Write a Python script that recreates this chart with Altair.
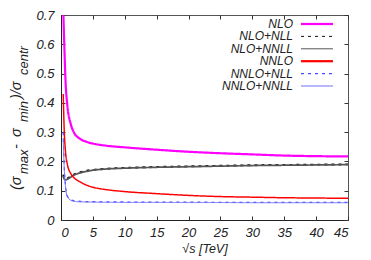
import altair as alt
import pandas as pd

# ---- data ----
sqrt_s = [0.35, 0.5, 0.7, 1, 1.5, 2, 3, 4, 5, 7, 10, 15, 20, 25, 30, 35, 40, 45]
nlo = [0.72, 0.61, 0.48, 0.39, 0.33, 0.30, 0.277, 0.267, 0.261, 0.254, 0.248, 0.240, 0.233, 0.228, 0.224, 0.220, 0.218, 0.217]
nlo_nll = [0.155, 0.143, 0.140, 0.142, 0.148, 0.155, 0.163, 0.168, 0.171, 0.175, 0.178, 0.181, 0.183, 0.185, 0.187, 0.188, 0.189, 0.190]
nlo_nnll = [0.150, 0.140, 0.137, 0.139, 0.146, 0.153, 0.161, 0.166, 0.170, 0.174, 0.177, 0.180, 0.182, 0.184, 0.186, 0.187, 0.188, 0.189]
nnlo = [0.43, 0.31, 0.235, 0.19, 0.16, 0.145, 0.130, 0.119, 0.112, 0.104, 0.097, 0.090, 0.084, 0.080, 0.078, 0.076, 0.075, 0.074]
nnlo_nll = [0.30, 0.19, 0.12, 0.082, 0.070, 0.066, 0.064, 0.063, 0.0625, 0.062, 0.0615, 0.061, 0.061, 0.0605, 0.0605, 0.060, 0.060, 0.060]
nnlo_nnll = [0.28, 0.18, 0.115, 0.079, 0.068, 0.064, 0.062, 0.0615, 0.061, 0.0605, 0.060, 0.060, 0.0595, 0.0595, 0.059, 0.059, 0.059, 0.059]

series_names = ["NLO", "NLO+NLL", "NLO+NNLL", "NNLO", "NNLO+NLL", "NNLO+NNLL"]
series_values = [nlo, nlo_nll, nlo_nnll, nnlo, nnlo_nll, nnlo_nnll]

x_ticks = [0, 5, 10, 15, 20, 25, 30, 35, 40, 45]
y_ticks = [0, 0.1, 0.2, 0.3, 0.4, 0.5, 0.6, 0.7]
x_title = "√s [TeV]"
y_title_parts = [("(σ", "main"), ("max", "sub"), ("-", "main"), ("σ", "main"),
                 ("min", "sub"), (")/σ", "main"), ("centr", "sub")]

# ---- styles ----
colors = ["#ff00ff", "#111111", "#555555", "#ff0000", "#4a4aff", "#7070ff"]
widths = [2.2, 1.0, 1.0, 2.2, 1.2, 1.0]
dashes = [[1, 0], [3, 4], [1, 0], [1, 0], [3, 4], [1, 0]]

W, H = 287, 205
FONT = "Liberation Sans"
TXT = "#222222"

rows = []
for k, (name, vals) in enumerate(zip(series_names, series_values)):
    for xv, yv in zip(sqrt_s, vals):
        rows.append({"series": name, "order": k, "x": xv, "y": yv})
df = pd.DataFrame(rows)

xs = alt.Scale(domain=[0, 45], nice=False, zero=False)
ys = alt.Scale(domain=[0, 0.7], nice=False)

lines = alt.Chart(df).mark_line(clip=True, interpolate="monotone").encode(
    x=alt.X("x:Q", scale=xs, axis=alt.Axis(
        values=x_ticks, format="d", tickSize=0, labelPadding=6, labelFontSize=13,
        labelFontStyle="italic", labelFont=FONT, labelColor=TXT, domainColor=TXT,
        grid=False, title=x_title, titleFont=FONT, titleFontSize=12.5,
        titleFontStyle="italic", titleFontWeight="normal", titleColor=TXT,
        titlePadding=3)),
    y=alt.Y("y:Q", scale=ys, axis=alt.Axis(
        values=y_ticks, labelExpr="datum.value == 0 ? '0' : format(datum.value, '.1f')",
        tickSize=0, labelPadding=7, labelFontSize=13, labelFontStyle="italic",
        labelFont=FONT, labelColor=TXT, domainColor=TXT, grid=False, title=None)),
    color=alt.Color("series:N", scale=alt.Scale(domain=series_names, range=colors), legend=None),
    strokeDash=alt.StrokeDash("series:N", scale=alt.Scale(domain=series_names, range=dashes), legend=None),
    strokeWidth=alt.StrokeWidth("series:N", scale=alt.Scale(domain=series_names, range=widths), legend=None),
    detail="series:N",
    order="order:Q",
)


def tick_axis(orient, offset, vals):
    return alt.Axis(orient=orient, offset=offset, values=vals, labels=False, domain=False,
                    ticks=True, tickSize=4, tickColor="#333333", grid=False, title=None)


ticks_a = alt.Chart(df).mark_line(opacity=0).encode(
    x=alt.X("x:Q", scale=xs, axis=tick_axis("top", -H, x_ticks)),
    y=alt.Y("y:Q", scale=ys, axis=tick_axis("right", -W, y_ticks)),
)
ticks_b = alt.Chart(df).mark_line(opacity=0).encode(
    x=alt.X("x:Q", scale=xs, axis=tick_axis("bottom", -H, x_ticks)),
    y=alt.Y("y:Q", scale=ys, axis=tick_axis("left", -W, y_ticks)),
)

# ---- legend (inside, top right) ----
legend_layers = []
for i, name in enumerate(series_names):
    ry = 9 + 12.4 * i
    legend_layers.append(
        alt.Chart(pd.DataFrame({"t": [name]})).mark_text(
            align="right", baseline="middle", font=FONT, fontSize=12,
            fontStyle="italic", color=TXT
        ).encode(text="t:N", x=alt.value(232), y=alt.value(ry))
    )
    rule_kw = dict(color=colors[i], strokeWidth=widths[i])
    if dashes[i] != [1, 0]:
        rule_kw["strokeDash"] = dashes[i]
    legend_layers.append(
        alt.Chart(pd.DataFrame({"t": [name]})).mark_rule(**rule_kw).encode(
            x=alt.value(240), x2=alt.value(272), y=alt.value(ry))
    )

# ---- rotated y title with subscripts ----
title_starts = [175, 159, 134, 122, 107, 84, 60]
title_layers = []
for (txt, kind), ystart in zip(y_title_parts, title_starts):
    size = 14.5 if kind == "main" else 13
    xb = -40 if kind == "main" else -33.5
    title_layers.append(
        alt.Chart(pd.DataFrame({"t": [txt]})).mark_text(
            angle=270, align="left", baseline="alphabetic", font=FONT,
            fontSize=size, fontStyle="italic", color=TXT
        ).encode(text="t:N", x=alt.value(xb), y=alt.value(ystart))
    )

chart = alt.layer(lines, ticks_a, ticks_b, *legend_layers, *title_layers).resolve_axis(
    x="independent", y="independent"
).properties(
    width=W, height=H, autosize="none",
    padding={"left": 53, "top": 7, "right": 15, "bottom": 40},
).configure_view(stroke="#555555", strokeWidth=1)

chart.save("out.html", embed_options={"renderer": "svg", "actions": False})
